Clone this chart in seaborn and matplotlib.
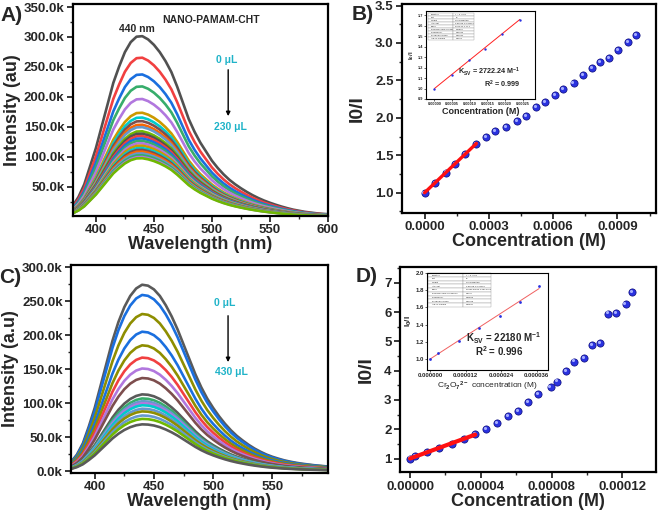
import numpy as np
import pandas as pd
import matplotlib
matplotlib.use("Agg")
import matplotlib.pyplot as plt
import seaborn as sns
from matplotlib.ticker import FuncFormatter, MultipleLocator, FormatStrFormatter
from matplotlib.transforms import offset_copy

# ---------------- data ----------------
wavelength = [380, 385, 390, 395, 400, 405, 410, 415, 420, 425, 430, 435, 440, 445, 450,
              455, 460, 465, 470, 475, 480, 485, 490, 495, 500, 505, 510, 515, 520, 525,
              530, 535, 540, 545, 550, 555, 560, 565, 570, 575, 580, 585, 590, 595, 600]
shape_A = [0.06, 0.11, 0.18, 0.28, 0.38, 0.50, 0.62, 0.74, 0.83, 0.91, 0.965, 0.995, 0.998,
           0.98, 0.95, 0.91, 0.86, 0.80, 0.72, 0.63, 0.54, 0.47, 0.41, 0.36, 0.31, 0.27,
           0.235, 0.205, 0.18, 0.158, 0.138, 0.12, 0.104, 0.09, 0.078, 0.067, 0.057, 0.048,
           0.04, 0.034, 0.028, 0.024, 0.02, 0.017, 0.015]
shape_C = [0.05, 0.09, 0.15, 0.24, 0.34, 0.46, 0.58, 0.70, 0.80, 0.88, 0.94, 0.98, 1.0,
           0.995, 0.975, 0.94, 0.89, 0.83, 0.76, 0.68, 0.60, 0.52, 0.45, 0.39, 0.34, 0.295,
           0.255, 0.22, 0.19, 0.165, 0.142, 0.122, 0.105, 0.09, 0.078, 0.068, 0.059, 0.052,
           0.046, 0.041, 0.037, 0.033, 0.03, 0.027, 0.025]
peaks_A = [302e3, 266e3, 238e3, 218e3, 197e3, 174e3, 166e3, 160e3, 154e3, 150e3, 143e3, 139e3,
           135e3, 131e3, 127e3, 123e3, 119e3, 115e3, 112e3, 109e3, 106e3, 103e3, 100e3, 98e3]
colors_A = ["#515151", "#F14040", "#1A6FDF", "#37AD6B", "#B177DE", "#CC9900", "#00CBCC",
            "#7D4E4E", "#FB6501", "#6699CC", "#6FB802", "#515151", "#F14040", "#1A6FDF",
            "#37AD6B", "#B177DE", "#CC9900", "#00CBCC", "#7D4E4E", "#FB6501", "#6699CC",
            "#37AD6B", "#B177DE", "#6FB802"]
peaks_C = [274e3, 259e3, 231e3, 205e3, 185e3, 167e3, 151e3, 137e3, 113e3, 107e3, 103e3,
           100e3, 97e3, 92e3, 88e3, 82e3, 77e3, 69e3]
colors_C = ["#5A5A5A", "#1A6FDF", "#8E8E00", "#1A6FDF", "#8E8E00", "#F14040", "#B177DE",
            "#7D4E4E", "#5A5A5A", "#37AD6B", "#6699CC", "#B177DE", "#00CBCC", "#6699CC",
            "#8E8E00", "#6699CC", "#6FB802", "#5A5A5A"]

conc_B = [0, 0.00005, 0.0000984, 0.000142, 0.000191, 0.000242, 0.000289, 0.00033, 0.00038,
          0.000431, 0.000472, 0.00052, 0.000563, 0.00061, 0.000648, 0.000695, 0.000739,
          0.000781, 0.000819, 0.000861, 0.000903, 0.00095, 0.000988]
ratio_B = [1.0, 1.13, 1.27, 1.38, 1.52, 1.65, 1.74, 1.82, 1.88, 1.96, 2.03, 2.15, 2.21, 2.30,
           2.38, 2.47, 2.57, 2.66, 2.75, 2.80, 2.90, 3.01, 3.11]
ksv_B = 2722.24
r2_B = 0.999
nfit_B = 6

conc_D = [0, 2.6e-6, 9.8e-6, 1.66e-5, 2.36e-5, 3.04e-5, 3.68e-5, 4.3e-5, 4.92e-5, 5.53e-5,
          6.09e-5, 6.68e-5, 7.22e-5, 7.94e-5, 8.3e-5, 8.81e-5, 9.28e-5, 9.81e-5, 1.028e-4,
          1.075e-4, 1.117e-4, 1.162e-4, 1.218e-4, 1.252e-4]
ratio_D = [1.0, 1.07, 1.21, 1.36, 1.50, 1.66, 1.85, 2.02, 2.22, 2.44, 2.63, 2.94, 3.20, 3.44,
           3.63, 4.0, 4.31, 4.43, 4.86, 4.94, 5.95, 5.98, 6.26, 6.69]
ksv_D = 22180
r2_D = 0.996
nfit_D = 7

table_rows = ["Equation", "Plot", "Weight", "Intercept", "Slope", "Residual Sum of Squares",
              "Pearson's r", "R-Square (COD)", "Adj. R-Square"]
table_B = ["y = a + b*x", "B", "No Weighting", "0.99946 \u00b1 0.00252", "2722.24 \u00b1 17.1",
           "2.20E-5", "0.99992", "0.99984", "0.9998"]
table_D = ["y = a + b*x", "B", "No Weighting", "0.99608 \u00b1 0.01386", "22180.04522 \u00b1 664.2755",
           "0.0025", "0.99803", "0.99606", "0.99527"]

# ---------------- style ----------------
sns.set_style("ticks")
plt.rcParams["font.family"] = ["Liberation Sans", "DejaVu Sans"]
plt.rcParams["font.weight"] = "bold"
plt.rcParams["axes.labelweight"] = "bold"
plt.rcParams["mathtext.fontset"] = "custom"
plt.rcParams["mathtext.rm"] = "Liberation Sans"
plt.rcParams["mathtext.bf"] = "Liberation Sans:bold"
plt.rcParams["mathtext.default"] = "bf"

fig = plt.figure(figsize=(6.62, 5.21), dpi=100)
fig.patch.set_facecolor("white")


def frame(ax, lw=1.6):
    for s in ax.spines.values():
        s.set_visible(True)
        s.set_linewidth(lw)
        s.set_color("black")


def main_ticks(ax):
    ax.tick_params(which="major", direction="out", length=4, width=1.3, labelsize=9.5,
                   top=False, right=False, pad=2)
    ax.tick_params(which="minor", direction="out", length=2.2, width=1.0, top=False, right=False)
    for lab in ax.get_xticklabels() + ax.get_yticklabels():
        lab.set_fontweight("bold")


kfmt = FuncFormatter(lambda v, p: f"{v/1000:.1f}k")


def spectra(ax, peaks, shape, colors):
    rows = []
    for i, pk in enumerate(peaks):
        for w, s in zip(wavelength, shape):
            rows.append((i, w, pk * s))
    df = pd.DataFrame(rows, columns=["curve", "wl", "I"])
    sns.lineplot(data=df, x="wl", y="I", hue="curve", palette=colors, legend=False,
                 lw=1.9, ax=ax, estimator=None, sort=False)


# ---------------- A ----------------
axA = fig.add_axes([0.1098, 0.5854, 0.3857, 0.4069])
spectra(axA, peaks_A, shape_A, colors_A)
axA.set_xlim(380, 600)
axA.set_ylim(1500, 355000)
axA.yaxis.set_major_locator(MultipleLocator(50000))
axA.yaxis.set_minor_locator(MultipleLocator(25000))
axA.xaxis.set_major_locator(MultipleLocator(50))
axA.xaxis.set_minor_locator(MultipleLocator(25))
axA.yaxis.set_major_formatter(kfmt)
axA.set_xlabel("Wavelength (nm)", fontsize=13, fontweight="bold", labelpad=0)
axA.set_ylabel("Intensity (au)", fontsize=13, fontweight="bold", labelpad=2)
frame(axA)
main_ticks(axA)
axA.text(0.543, 0.925, "NANO-PAMAM-CHT", transform=axA.transAxes, ha="center", va="center",
         fontsize=7.5, fontweight="bold")
axA.text(0.252, 0.882, "440 nm", transform=axA.transAxes, ha="center", va="center",
         fontsize=7.5, fontweight="bold")
axA.text(0.605, 0.736, "0 \u03bcL", transform=axA.transAxes, ha="center", va="center",
         fontsize=7.5, fontweight="bold", color="#1FB3C8")
axA.text(0.617, 0.42, "230 \u03bcL", transform=axA.transAxes, ha="center", va="center",
         fontsize=7.5, fontweight="bold", color="#1FB3C8")
axA.annotate("", xy=(0.609, 0.458), xytext=(0.609, 0.703), xycoords="axes fraction",
             arrowprops=dict(arrowstyle="-|>", lw=1.0, color="black", mutation_scale=6))

# ---------------- C ----------------
axC = fig.add_axes([0.1073, 0.0927, 0.3882, 0.3987])
spectra(axC, peaks_C, shape_C, colors_C)
axC.set_xlim(380, 597)
axC.set_ylim(-2000, 303000)
axC.yaxis.set_major_locator(MultipleLocator(50000))
axC.yaxis.set_minor_locator(MultipleLocator(25000))
axC.xaxis.set_major_locator(MultipleLocator(50))
axC.xaxis.set_minor_locator(MultipleLocator(25))
axC.yaxis.set_major_formatter(kfmt)
axC.set_xlabel("Wavelength (nm)", fontsize=13, fontweight="bold", labelpad=0)
axC.set_ylabel("Intensity (a.u)", fontsize=13, fontweight="bold", labelpad=2)
frame(axC)
main_ticks(axC)
axC.text(0.599, 0.817, "0 \u03bcL", transform=axC.transAxes, ha="center", va="center",
         fontsize=7.5, fontweight="bold", color="#1FB3C8")
axC.text(0.626, 0.485, "430 \u03bcL", transform=axC.transAxes, ha="center", va="center",
         fontsize=7.5, fontweight="bold", color="#1FB3C8")
axC.annotate("", xy=(0.611, 0.519), xytext=(0.611, 0.769), xycoords="axes fraction",
             arrowprops=dict(arrowstyle="-|>", lw=1.0, color="black", mutation_scale=6))


# ---------------- scatter panels ----------------
def spheres(ax, x, y, s, hl_s, off):
    sns.scatterplot(x=x, y=y, ax=ax, s=s, color="#2A32E0", edgecolor="#0B0B7A",
                    linewidth=0.5, zorder=3, legend=False)
    tr = offset_copy(ax.transData, fig=fig, x=-off, y=off, units="points")
    ax.scatter(x, y, s=hl_s, color="#A5ADFF", linewidths=0, zorder=4, transform=tr)


def fitline(ax, conc, ksv, n, lw, color, z=5):
    xf = np.array([conc[0], conc[n - 1]])
    yf = 1 + ksv * xf
    sns.lineplot(x=xf, y=yf, ax=ax, color=color, lw=lw, zorder=z)


def table(ax, vals, bbox):
    cells = [[r, v] for r, v in zip(table_rows, vals)]
    t = ax.table(cellText=cells, bbox=bbox, cellLoc="left", colWidths=[0.55, 0.45])
    t.auto_set_font_size(False)
    t.set_fontsize(1.6)
    for c in t.get_celld().values():
        c.set_linewidth(0.25)
        c.set_edgecolor("#888888")
        c.get_text().set_fontweight("normal")


# ---------------- B ----------------
axB = fig.add_axes([0.6073, 0.5912, 0.3837, 0.4011])
spheres(axB, conc_B, ratio_B, 27, 5, 0.8)
fitline(axB, conc_B, ksv_B, nfit_B, 2.4, "#FF1010")
axB.set_xlim(-0.000105, 0.00108)
axB.set_ylim(0.73, 3.52)
axB.xaxis.set_major_locator(MultipleLocator(0.0003))
axB.xaxis.set_minor_locator(MultipleLocator(0.00015))
axB.yaxis.set_major_locator(MultipleLocator(0.5))
axB.yaxis.set_minor_locator(MultipleLocator(0.25))
axB.xaxis.set_major_formatter(FormatStrFormatter("%.4f"))
axB.yaxis.set_major_formatter(FormatStrFormatter("%.1f"))
axB.set_xlabel("Concentration (M)", fontsize=13, fontweight="bold", labelpad=0)
axB.set_ylabel("I0/I", fontsize=14, fontweight="bold", labelpad=7)
frame(axB)
main_ticks(axB)

inB = fig.add_axes([0.6435, 0.81, 0.1647, 0.169])
sns.scatterplot(x=conc_B[:nfit_B], y=ratio_B[:nfit_B], ax=inB, s=3, color="#2A32E0",
                linewidth=0, zorder=3, legend=False)
fitline(inB, conc_B, ksv_B, nfit_B, 0.7, "#FF2020", z=2)
inB.set_xlim(-2.4e-5, 2.85e-4)
inB.set_ylim(0.9, 1.74)
inB.xaxis.set_major_locator(MultipleLocator(0.00005))
inB.yaxis.set_major_locator(MultipleLocator(0.1))
inB.xaxis.set_major_formatter(FormatStrFormatter("%.5f"))
inB.yaxis.set_major_formatter(FormatStrFormatter("%.1f"))
inB.tick_params(labelsize=2.8, length=1.2, width=0.5, pad=1, direction="out")
inB.set_xlabel("Concentration (M)", fontsize=6.5, fontweight="bold", labelpad=1)
inB.set_ylabel("I$_0$/I", fontsize=4.5, labelpad=1)
frame(inB, 0.8)
inB.text(0.58, 0.31, "K$_{SV}$ = 2722.24 M$^{-1}$", transform=inB.transAxes, ha="center",
         va="center", fontsize=5.2, fontweight="bold")
inB.text(0.70, 0.17, f"R$^2$ = {r2_B}", transform=inB.transAxes, ha="center", va="center",
         fontsize=5.2, fontweight="bold")
table(inB, table_B, [0.02, 0.67, 0.42, 0.31])

# ---------------- D ----------------
axD = fig.add_axes([0.6042, 0.0935, 0.3868, 0.3946])
spheres(axD, conc_D, ratio_D, 27, 5, 0.8)
fitline(axD, conc_D, ksv_D, nfit_D, 3.0, "#FF1010")
axD.set_xlim(-5.7e-6, 1.39e-4)
axD.set_ylim(0.53, 7.55)
axD.xaxis.set_major_locator(MultipleLocator(0.00004))
axD.xaxis.set_minor_locator(MultipleLocator(0.00002))
axD.yaxis.set_major_locator(MultipleLocator(1))
axD.yaxis.set_minor_locator(MultipleLocator(0.5))
axD.xaxis.set_major_formatter(FormatStrFormatter("%.5f"))
axD.yaxis.set_major_formatter(FormatStrFormatter("%d"))
axD.set_xlabel("Concentration (M)", fontsize=13, fontweight="bold", labelpad=0)
axD.set_ylabel("I0/I", fontsize=14, fontweight="bold", labelpad=7)
frame(axD)
main_ticks(axD)

inD = fig.add_axes([0.645, 0.2898, 0.1828, 0.1868])
sns.scatterplot(x=conc_D[:nfit_D], y=ratio_D[:nfit_D], ax=inD, s=4, color="#2A32E0",
                linewidth=0, zorder=3, legend=False)
fitline(inD, conc_D, ksv_D, nfit_D, 0.7, "#F06060", z=2)
inD.set_xlim(-1e-6, 3.98e-5)
inD.set_ylim(0.874, 2.0)
inD.xaxis.set_major_locator(MultipleLocator(0.000012))
inD.yaxis.set_major_locator(MultipleLocator(0.2))
inD.xaxis.set_major_formatter(FormatStrFormatter("%.6f"))
inD.yaxis.set_major_formatter(FormatStrFormatter("%.1f"))
inD.tick_params(labelsize=4.3, length=1.3, width=0.5, pad=1, direction="out")
inD.set_xlabel("Cr$_{\\mathrm{2}}$O$_{\\mathrm{7}}$$^{\\mathrm{2-}}$ concentration (M)",
               fontsize=6, fontweight="normal", labelpad=1)
inD.set_ylabel("I$_0$/I", fontsize=6, labelpad=1)
frame(inD, 0.8)
inD.text(0.636, 0.33, "K$_{SV}$ = 22180 M$^{-1}$", transform=inD.transAxes, ha="center",
         va="center", fontsize=7, fontweight="bold")
inD.text(0.60, 0.19, f"R$^2$ = {r2_D}", transform=inD.transAxes, ha="center", va="center",
         fontsize=7, fontweight="bold")
table(inD, table_D, [0.01, 0.65, 0.52, 0.345])

# ---------------- panel letters ----------------
for lab, x, y in [("A)", 0.018, 0.970), ("B)", 0.548, 0.972), ("C)", 0.015, 0.468),
                  ("D)", 0.554, 0.469)]:
    fig.text(x, y, lab, ha="center", va="center", fontsize=15, fontweight="bold")

fig.savefig("out.png", dpi=100, facecolor="white")
